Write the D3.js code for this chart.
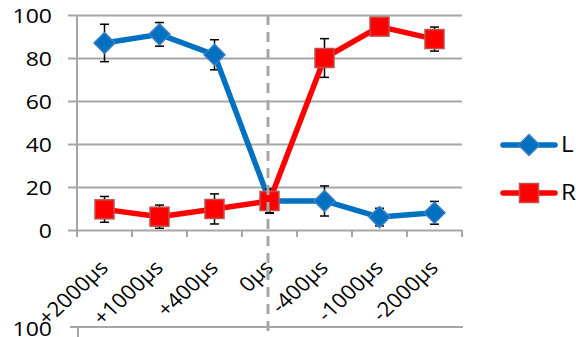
<!DOCTYPE html>
<html>
<head>
<meta charset="utf-8">
<script src="https://cdn.jsdelivr.net/npm/d3@7"></script>
<style>
  html, body { margin: 0; padding: 0; background: #fff; }
  svg { display: block; }
  text { font-family: "Open Sans", "Noto Sans", sans-serif; fill: #000; }
</style>
</head>
<body>
<svg id="chart" width="576" height="337"></svg>
<script>
// Timing offsets along the x axis
const categories = ["+2000µs", "+1000µs", "+400µs", "0µs", "-400µs", "-1000µs", "-2000µs"];
// Percentage responses with their error half-widths
const valuesL = [87, 91, 81.5, 13.5, 13.5, 6, 8];
const errorsL = [8.7, 5.5, 7, 5.5, 7, 4.1, 5.3];
const valuesR = [9.6, 6.2, 9.8, 13.5, 80, 94.6, 88.8];
const errorsR = [6, 5.4, 7, 5.7, 9, 3, 5.6];
const yTicks = [0, 20, 40, 60, 80, 100];
const seriesNames = ["L", "R"];

const svg = d3.select("#chart");
const TEXT_STRETCH = 1.15;
const plot = { left: 77, right: 462, top: 15, bottom: 230 };

const x = d3.scaleBand().domain(categories).range([plot.left, plot.right]);
const cx = c => x(c) + x.bandwidth() / 2;
const y = d3.scaleLinear().domain([0, 100]).range([plot.bottom, plot.top]);

// Horizontal gridlines, reaching a little past the value axis
const grid = svg.append("g")
  .attr("transform", `translate(${plot.right},0)`)
  .call(d3.axisLeft(y).tickValues(yTicks).tickSize(plot.right - 68).tickFormat(""));
grid.select(".domain").remove();
grid.selectAll(".tick line").attr("stroke", "#a6a6a6").attr("stroke-width", 2);

// Value axis labels
const yAxis = svg.append("g")
  .attr("transform", `translate(${plot.left},0)`)
  .call(d3.axisLeft(y).tickValues(yTicks).tickSize(0).tickPadding(0));
yAxis.select(".domain").remove();
yAxis.selectAll(".tick text")
  .attr("x", -25 / TEXT_STRETCH)
  .attr("dy", "0.35em")
  .attr("transform", `scale(${TEXT_STRETCH},1)`)
  .style("font-size", "20px")
  .attr("text-anchor", "end");

// Category axis: ticks at band edges
const edges = categories.map(c => x(c)).concat([plot.right]);
svg.append("g").selectAll("line").data(edges).join("line")
  .attr("x1", d => d).attr("x2", d => d)
  .attr("y1", plot.bottom).attr("y2", plot.bottom + 7)
  .attr("stroke", "#a6a6a6").attr("stroke-width", 2);
svg.append("line")
  .attr("x1", plot.left).attr("x2", plot.left)
  .attr("y1", plot.top).attr("y2", plot.bottom + 7)
  .attr("stroke", "#a6a6a6").attr("stroke-width", 2);

// Rotated category labels
svg.append("g").selectAll("text").data(categories).join("text")
  .attr("transform", d => `translate(${cx(d) + 5},${plot.bottom + 39}) scale(1.08,1) rotate(-45)`)
  .attr("text-anchor", "end")
  .style("font-size", "20.5px")
  .text(d => d);

// Top edge of the next panel below
svg.append("line")
  .attr("x1", 70).attr("x2", 463).attr("y1", 327).attr("y2", 327)
  .attr("stroke", "#a6a6a6").attr("stroke-width", 2);
svg.append("line")
  .attr("x1", 78).attr("x2", 78).attr("y1", 327).attr("y2", 340)
  .attr("stroke", "#a6a6a6").attr("stroke-width", 2);
svg.append("text")
  .attr("x", 52 / TEXT_STRETCH).attr("y", 329).attr("dy", "0.35em")
  .attr("transform", `scale(${TEXT_STRETCH},1)`)
  .attr("text-anchor", "end")
  .style("font-size", "20px")
  .text(yTicks[yTicks.length - 1]);

const line = d3.line().x((d, i) => cx(categories[i])).y(d => y(d));

const series = [
  { name: seriesNames[0], values: valuesL, errors: errorsL, color: "#0070c0", edge: "#3a7fc6", shape: "diamond" },
  { name: seriesNames[1], values: valuesR, errors: errorsR, color: "#ff0000", edge: "#c0504d", shape: "square" }
];

function marker(sel, s) {
  if (s.shape === "diamond") {
    sel.append("path")
      .attr("d", "M0,-10.5L10.5,0L0,10.5L-10.5,0Z")
      .attr("fill", s.color).attr("stroke", s.edge).attr("stroke-width", 1.5);
  } else {
    sel.append("rect")
      .attr("x", -9.5).attr("y", -9.5).attr("width", 19).attr("height", 19)
      .attr("fill", s.color).attr("stroke", s.edge).attr("stroke-width", 1.5);
  }
}

series.forEach(s => {
  const g = svg.append("g");
  // error bars
  const eb = g.append("g").selectAll("g").data(s.values).join("g");
  eb.append("line")
    .attr("x1", (d, i) => cx(categories[i])).attr("x2", (d, i) => cx(categories[i]))
    .attr("y1", (d, i) => y(d + s.errors[i])).attr("y2", (d, i) => y(d - s.errors[i]))
    .attr("stroke", "#000").attr("stroke-width", 1.5);
  [1, -1].forEach(sign => {
    eb.append("line")
      .attr("x1", (d, i) => cx(categories[i]) - 4.5).attr("x2", (d, i) => cx(categories[i]) + 4.5)
      .attr("y1", (d, i) => y(d + sign * s.errors[i])).attr("y2", (d, i) => y(d + sign * s.errors[i]))
      .attr("stroke", "#000").attr("stroke-width", 1.5);
  });
  g.append("path").datum(s.values)
    .attr("d", line).attr("fill", "none")
    .attr("stroke", s.color).attr("stroke-width", 5.5).attr("stroke-linejoin", "round");
  g.append("g").selectAll("g").data(s.values).join("g")
    .attr("transform", (d, i) => `translate(${cx(categories[i])},${y(d)})`)
    .each(function () { marker(d3.select(this), s); });
});

// Reference line at the zero offset
svg.append("line")
  .attr("x1", cx("0µs") - 1.5).attr("x2", cx("0µs") - 1.5)
  .attr("y1", plot.top).attr("y2", 337)
  .attr("stroke", "#a6a6a6").attr("stroke-width", 3)
  .attr("stroke-dasharray", "10,7");

// Legend
series.forEach((s, k) => {
  const ly = 145 + k * 48;
  const lg = svg.append("g");
  lg.append("line").attr("x1", 503).attr("x2", 555).attr("y1", ly).attr("y2", ly)
    .attr("stroke", s.color).attr("stroke-width", 5.5).attr("stroke-linecap", "round");
  const m = lg.append("g").attr("transform", `translate(529,${ly})`);
  marker(m, s);
  lg.append("text")
    .attr("x", 561 / TEXT_STRETCH).attr("y", ly).attr("dy", "0.35em")
    .attr("transform", `scale(${TEXT_STRETCH},1)`)
    .style("font-size", "21px")
    .text(s.name);
});
</script>
</body>
</html>
